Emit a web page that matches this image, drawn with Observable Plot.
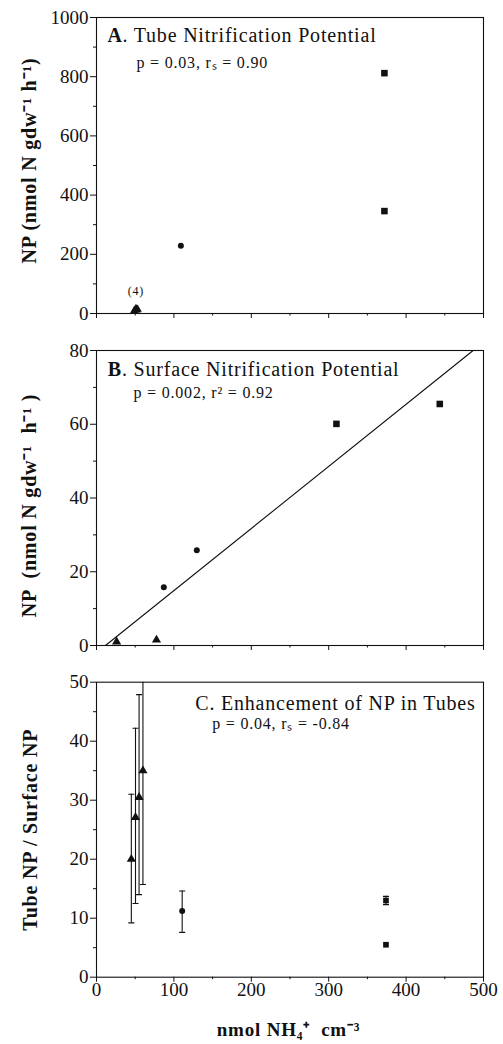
<!DOCTYPE html>
<html><head><meta charset="utf-8">
<script src="https://cdn.jsdelivr.net/npm/d3@7"></script>
<script src="https://cdn.jsdelivr.net/npm/@observablehq/plot@0.6"></script>
<style>
body{margin:0;background:#fff;}
#chart svg{display:block;}
#chart svg, #chart svg text{font-family:"Liberation Serif","Times New Roman",serif !important;}
g[aria-label="text"] text{letter-spacing:0.8px;}
</style>
</head><body><div id="chart"></div>
<script>
// ---- Panel A: Tube nitrification potential ----
const aTriX = [49, 51, 52, 53];
const aTriY = [10, 16, 12, 14];
const aCircX = [109];
const aCircY = [229];
const aSqX = [372, 372];
const aSqY = [812, 346];
const aTicks = [0, 200, 400, 600, 800, 1000];
const aMinor = [100, 300, 500, 700, 900];

// ---- Panel B: Surface nitrification potential ----
const bTriX = [26, 77.5];
const bTriY = [1, 1.5];
const bCircX = [87, 129.6];
const bCircY = [15.8, 25.8];
const bSqX = [310, 443.5];
const bSqY = [60.1, 65.5];
const bFitX = [11.6, 486.6];
const bFitY = [0, 80];
const bTicks = [0, 20, 40, 60, 80];
const bMinor = [10, 30, 50, 70];

// ---- Panel C: Enhancement ratio ----
const cX = [45, 50.4, 55, 60, 110.7, 374, 374];
const cY = [20, 27.1, 30.5, 35, 11.2, 13, 5.5];
const cLo = [9.2, 12.5, 14, 15.7, 7.6, 12.3, null];
const cHi = [31, 42.2, 47.9, 54.3, 14.6, 13.7, null];
const cShape = ["triangle", "triangle", "triangle", "triangle", "circle", "square", "square"];
const cTicks = [0, 10, 20, 30, 40, 50];
const cMinor = [5, 15, 25, 35, 45];

const xTicks = [0, 100, 200, 300, 400, 500];
const xMinor = [50, 150, 250, 350, 450];

const font = "'Liberation Serif', serif";
const zip = (xs, ys) => xs.map((x, i) => ({x, y: ys[i]}));

const capSymbol = {draw(ctx, size) { const w = Math.sqrt(size) / 2; ctx.moveTo(-w, 0); ctx.lineTo(w, 0); }};

function baseMarks(yTicks, yMinor, showXLabels) {
  return [
    Plot.axisY(yTicks, {tickSize: 6, tickPadding: 2, fontSize: 19, label: null, stroke: "#111", tickFormat: d => String(d)}),
    Plot.axisY(yMinor, {tickSize: 3, tickFormat: () => "", label: null, stroke: "#111"}),
    Plot.axisX(xTicks, {tickSize: 5, tickPadding: 0, fontSize: 19, label: null, stroke: "#111",
      tickFormat: showXLabels ? (d => String(d)) : (() => "")}),
    Plot.axisX(xMinor, {tickSize: 2.5, tickFormat: () => "", label: null, stroke: "#111"}),
    Plot.frame({stroke: "#111", strokeWidth: 1.1})
  ];
}

function ylab(txt, dx, dy) {
  return Plot.text([txt], {text: d => d, frameAnchor: "left", textAnchor: "middle", rotate: -90, dx, dy,
    lineAnchor: "middle", fontWeight: "bold", fontSize: 20, fill: "#111"});
}

// Panel A
const plotA = Plot.plot({
  width: 503, height: 332,
  marginLeft: 96, marginRight: 20, marginTop: 17, marginBottom: 19,
  style: {fontFamily: font, fontSize: "19px", background: "#fff", color: "#111"},
  x: {domain: [0, 500], label: null},
  y: {domain: [0, 1000], label: null},
  marks: [
    ...baseMarks(aTicks, aMinor, false),
    Plot.dot(zip(aTriX, aTriY), {x: "x", y: "y", symbol: "triangle", r: 3.2, fill: "#111"}),
    Plot.dot(zip(aCircX, aCircY), {x: "x", y: "y", symbol: "circle", r: 3, fill: "#111"}),
    Plot.dot(zip(aSqX, aSqY), {x: "x", y: "y", symbol: "square", r: 3.7, fill: "#111"}),
    Plot.text([{x: 51, y: 0, t: "(4)"}], {x: "x", y: "y", text: "t", dy: -22, fontSize: 12, lineAnchor: "middle", fill: "#111"}),
    Plot.text(["A"], {text: d => d, frameAnchor: "top-left", textAnchor: "start", lineAnchor: "middle", dx: 11, dy: 17.6, fontWeight: "bold", fontSize: 20, fill: "#111"}),
    Plot.text([". Tube Nitrification Potential"], {text: d => d, frameAnchor: "top-left", textAnchor: "start", lineAnchor: "middle", dx: 26, dy: 17.6, fontSize: 20, fill: "#111"}),
    Plot.text(["p = 0.03, r\u209B = 0.90"], {text: d => d, frameAnchor: "top-left", textAnchor: "start", lineAnchor: "middle", dx: 40, dy: 45.4, fontSize: 16, fill: "#111"}),
    ylab("NP (nmol N gdw\u207B\u00B9 h\u207B\u00B9)", -67, -5)
  ]
});

// Panel B
const plotB = Plot.plot({
  width: 503, height: 330,
  marginLeft: 96, marginRight: 20, marginTop: 18, marginBottom: 17,
  style: {fontFamily: font, fontSize: "19px", background: "#fff", color: "#111"},
  x: {domain: [0, 500], label: null},
  y: {domain: [0, 80], label: null},
  marks: [
    ...baseMarks(bTicks, bMinor, false),
    Plot.line(zip(bFitX, bFitY), {x: "x", y: "y", stroke: "#111", strokeWidth: 1.1}),
    Plot.dot(zip(bTriX, bTriY), {x: "x", y: "y", symbol: "triangle", r: 3.4, fill: "#111"}),
    Plot.dot(zip(bCircX, bCircY), {x: "x", y: "y", symbol: "circle", r: 3, fill: "#111"}),
    Plot.dot(zip(bSqX, bSqY), {x: "x", y: "y", symbol: "square", r: 3.7, fill: "#111"}),
    Plot.text(["B"], {text: d => d, frameAnchor: "top-left", textAnchor: "start", lineAnchor: "middle", dx: 11.3, dy: 18.6, fontWeight: "bold", fontSize: 20, fill: "#111"}),
    Plot.text([". Surface Nitrification Potential"], {text: d => d, frameAnchor: "top-left", textAnchor: "start", lineAnchor: "middle", dx: 25.5, dy: 18.6, fontSize: 20, fill: "#111"}),
    Plot.text(["p = 0.002, r\u00B2 = 0.92"], {text: d => d, frameAnchor: "top-left", textAnchor: "start", lineAnchor: "middle", dx: 37, dy: 42.6, fontSize: 16, fill: "#111"}),
    ylab("NP  (nmol N gdw\u207B\u00B9  h\u207B\u00B9 )", -67, 7.5)
  ]
});

// Panel C
const cRows = cX.map((x, i) => ({x, y: cY[i], lo: cLo[i], hi: cHi[i], shape: cShape[i]}));
const cErr = cRows.filter(d => d.lo != null);
const plotC = Plot.plot({
  width: 503, height: 382,
  marginLeft: 96, marginRight: 20, marginTop: 19.7, marginBottom: 67.3,
  style: {fontFamily: font, fontSize: "19px", background: "#fff", color: "#111"},
  x: {domain: [0, 500], label: null},
  y: {domain: [0, 50], label: null},
  marks: [
    ...baseMarks(cTicks, cMinor, true),
    Plot.ruleX(cErr, {x: "x", y1: "lo", y2: "hi", stroke: "#111", strokeWidth: 1.1, clip: true}),
    Plot.dot(cErr, {x: "x", y: "lo", symbol: capSymbol, r: 3.4, stroke: "#111", fill: "none", strokeWidth: 1.1, clip: true}),
    Plot.dot(cErr, {x: "x", y: "hi", symbol: capSymbol, r: 3.4, stroke: "#111", fill: "none", strokeWidth: 1.1, clip: true}),
    Plot.dot(cRows.filter(d => d.shape === "triangle"), {x: "x", y: "y", symbol: "triangle", r: 3.4, fill: "#111"}),
    Plot.dot(cRows.filter(d => d.shape === "circle"), {x: "x", y: "y", symbol: "circle", r: 3, fill: "#111"}),
    Plot.dot(cRows.filter(d => d.shape === "square"), {x: "x", y: "y", symbol: "square", r: 3.2, fill: "#111"}),
    Plot.text(["C. Enhancement of NP in Tubes"], {text: d => d, frameAnchor: "top-right", textAnchor: "end", lineAnchor: "middle", dx: -8, dy: 21.2, fontSize: 20, fill: "#111"}),
    Plot.text(["p = 0.04, r\u209B = -0.84"], {text: d => d, frameAnchor: "top-left", textAnchor: "start", lineAnchor: "middle", dx: 115.7, dy: 41.5, fontSize: 16, fill: "#111"}),
    ylab("Tube NP / Surface NP", -66, 0),
    Plot.text(["nmol NH\u2084\u207A  cm\u207B\u00B3"], {text: d => d, frameAnchor: "bottom", textAnchor: "middle", lineAnchor: "middle", dx: -1.5, dy: 53.2, fontWeight: "bold", fontSize: 19, fill: "#111"})
  ]
});

const root = document.getElementById("chart");
root.append(plotA, plotB, plotC);
</script>
</body></html>
